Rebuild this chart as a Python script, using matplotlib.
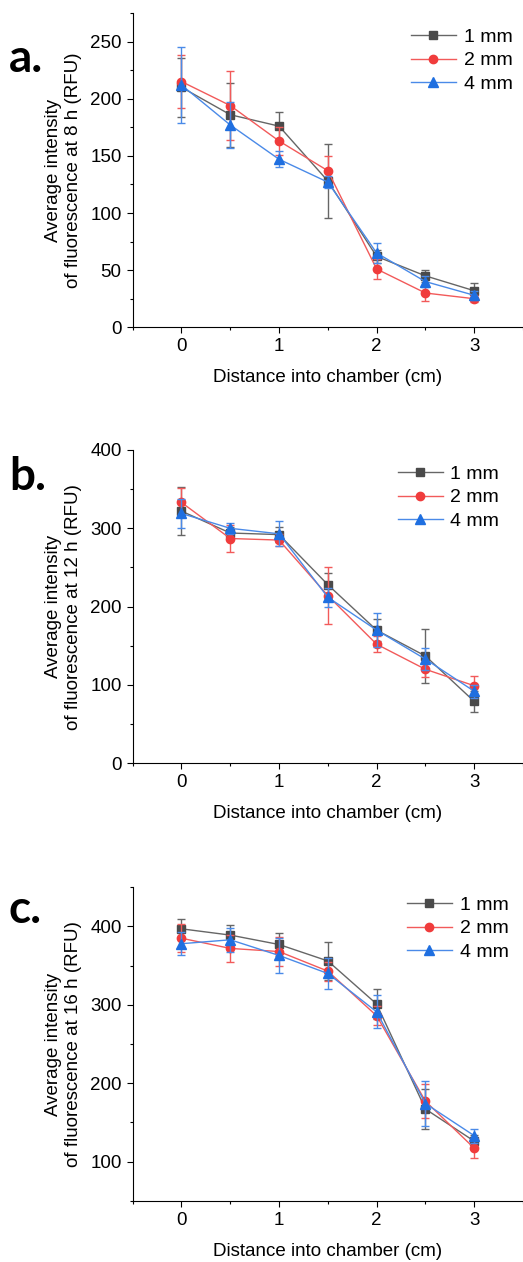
import matplotlib
matplotlib.use('Agg')
import matplotlib.pyplot as plt
from matplotlib.ticker import MultipleLocator

plt.rcParams['font.family'] = ['Liberation Sans', 'DejaVu Sans']

# distance into chamber (cm)
distance = [0, 0.5, 1, 1.5, 2, 2.5, 3]
labels = ['1 mm', '2 mm', '4 mm']

# 8 h
mean_8h_1mm = [210, 186, 176, 128, 62, 45, 32]
err_8h_1mm = [26, 28, 12, 32, 6, 5, 7]
mean_8h_2mm = [215, 194, 163, 137, 51, 30, 25]
err_8h_2mm = [23, 30, 12, 13, 9, 7, 3]
mean_8h_4mm = [212, 177, 147, 127, 65, 40, 28]
err_8h_4mm = [33, 20, 7, 5, 9, 5, 4]

# 12 h
mean_12h_1mm = [322, 294, 292, 228, 170, 137, 79]
err_12h_1mm = [31, 8, 10, 15, 14, 34, 13]
mean_12h_2mm = [333, 287, 285, 214, 152, 120, 99]
err_12h_2mm = [19, 17, 8, 36, 10, 10, 12]
mean_12h_4mm = [319, 300, 293, 212, 170, 133, 92]
err_12h_4mm = [18, 7, 16, 12, 22, 14, 8]

# 16 h
mean_16h_1mm = [397, 389, 377, 356, 301, 167, 126]
err_16h_1mm = [13, 13, 15, 24, 19, 25, 8]
mean_16h_2mm = [385, 372, 368, 343, 286, 177, 117]
err_16h_2mm = [18, 17, 19, 12, 12, 22, 13]
mean_16h_4mm = [378, 383, 363, 340, 291, 174, 133]
err_16h_4mm = [15, 15, 22, 20, 21, 29, 9]

colors = ['#4a4a4a', '#f03c3c', '#1f6fe0']
line_colors = ['#666666', '#f25a5a', '#4a8ae8']
markers = ['s', 'o', '^']
msizes = [5.5, 6, 6.5]

W, H = 523, 1262
fig = plt.figure(figsize=(W / 100, H / 100), dpi=100)


def px_axes(top, bottom, left=132.7, right=523):
    return fig.add_axes([left / W, 1 - bottom / H, (right - left) / W, (bottom - top) / H])


def draw_panel(ax, means, errs, ylim, major, letter, hours, letter_y, leg_xy):
    for i in range(3):
        ax.errorbar(distance, means[i], yerr=errs[i], fmt='none', ecolor=line_colors[i],
                    elinewidth=1, capsize=2.8, capthick=1, zorder=2 + i)
        ax.plot(distance, means[i], color=line_colors[i], lw=1, marker=markers[i],
                markersize=msizes[i], markerfacecolor=colors[i], markeredgecolor=colors[i],
                label=labels[i], zorder=2 + i)
    ax.set_xlim(-0.5, 3.5)
    ax.set_ylim(*ylim)
    ax.xaxis.set_major_locator(MultipleLocator(1))
    ax.xaxis.set_minor_locator(MultipleLocator(0.5))
    ax.yaxis.set_major_locator(MultipleLocator(major))
    ax.yaxis.set_minor_locator(MultipleLocator(major / 2))
    for s in ['top', 'right']:
        ax.spines[s].set_visible(False)
    for s in ['left', 'bottom']:
        ax.spines[s].set_linewidth(0.8)
    ax.tick_params(which='major', direction='out', length=4, width=0.8, labelsize=13.5, pad=4)
    ax.tick_params(which='minor', direction='out', length=2.2, width=0.8)
    ax.set_xlabel('Distance into chamber (cm)', fontsize=13.5, labelpad=10)
    ax.set_ylabel('Average intensity\nof fluorescence at {} h (RFU)'.format(hours),
                  fontsize=13.5, linespacing=1.25, labelpad=6)
    ax.legend(loc='upper left', bbox_to_anchor=(leg_xy[0] / W, 1 - leg_xy[1] / H),
              bbox_transform=fig.transFigure, frameon=False, borderpad=0, borderaxespad=0,
              handlelength=2.3, handletextpad=0.4, labelspacing=0.32, fontsize=14)
    fig.text(9 / W, 1 - letter_y / H, letter, fontsize=33, fontweight='bold',
             family='Lato', ha='left', va='baseline')


ax_a = px_axes(13, 327.3)
draw_panel(ax_a, [mean_8h_1mm, mean_8h_2mm, mean_8h_4mm],
           [err_8h_1mm, err_8h_2mm, err_8h_4mm], (0, 275), 50, 'a.', 8, 72, (411, 28))

ax_b = px_axes(450, 763.3)
draw_panel(ax_b, [mean_12h_1mm, mean_12h_2mm, mean_12h_4mm],
           [err_12h_1mm, err_12h_2mm, err_12h_4mm], (0, 400), 100, 'b.', 12, 490, (398, 465))

ax_c = px_axes(887.3, 1200.7)
draw_panel(ax_c, [mean_16h_1mm, mean_16h_2mm, mean_16h_4mm],
           [err_16h_1mm, err_16h_2mm, err_16h_4mm], (50, 450), 100, 'c.', 16, 923, (407, 896))

fig.savefig('out.png', dpi=100)
